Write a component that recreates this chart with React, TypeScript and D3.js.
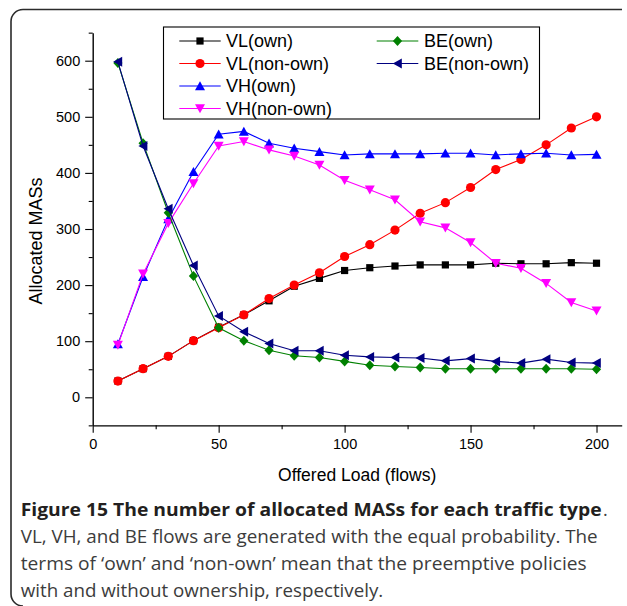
import React, { useEffect, useRef } from "react";
import * as d3 from "d3";

const loads = [10, 20, 30, 40, 50, 60, 70, 80, 90, 100, 110, 120, 130, 140, 150, 160, 170, 180, 190, 200];
const vlOwn = [29, 51, 73, 101, 125, 147, 172, 198, 212, 226, 231, 234, 236, 236, 236, 239, 238, 238, 240, 239];
const vlNonOwn = [29, 51, 73, 101, 124, 147, 176, 200, 222, 251, 272, 298, 328, 347, 374, 406, 424, 450, 480, 500];
const vhOwn = [95, 215, 318, 402, 469, 474, 453, 444, 438, 432, 434, 434, 434, 435, 435, 432, 434, 435, 432, 433];
const vhNonOwn = [93, 220, 310, 381, 448, 456, 441, 430, 414, 387, 370, 352, 313, 302, 276, 239, 230, 203, 169, 154];
const beOwn = [596, 453, 329, 216, 124, 101, 84, 74, 71, 64, 57, 55, 53, 51, 51, 51, 51, 51, 51, 50];
const beNonOwn = [598, 448, 336, 235, 145, 117, 96, 83, 83, 75, 72, 71, 70, 65, 69, 64, 61, 68, 62, 61];

const seriesNames = ["VL(own)", "VL(non-own)", "VH(own)", "VH(non-own)", "BE(own)", "BE(non-own)"];
const seriesColors = ["#000000", "#ff0000", "#0000ff", "#ff00ff", "#008000", "#000080"];
const seriesShapes = ["square", "circle", "up", "down", "diamond", "left"];
const seriesValues = [vlOwn, vlNonOwn, vhOwn, vhNonOwn, beOwn, beNonOwn];

const yMajorTicks = [0, 100, 200, 300, 400, 500, 600];
const yMinorTicks = [-50, 50, 150, 250, 350, 450, 550, 650];
const xMajorTicks = [0, 50, 100, 150, 200];
const xMinorTicks = [25, 75, 125, 175];

const captionBold = "Figure 15 The number of allocated MASs for each traffic type";
const captionLines = [
  "VL, VH, and BE flows are generated with the equal probability. The",
  "terms of \u2018own\u2019 and \u2018non-own\u2019 mean that the preemptive policies",
  "with and without ownership, respectively.",
];

const x = d3.scaleLinear().domain([0, 210]).range([92.7, 621.7]);
const y = d3.scaleLinear().domain([-50, 650]).range([425.35, 32.65]);

function markerPath(shape: string): string {
  switch (shape) {
    case "square":
      return "M-3.6,-3.6H3.6V3.6H-3.6Z";
    case "circle":
      return d3.symbol().type(d3.symbolCircle).size(Math.PI * 4.6 * 4.6)()!;
    case "up":
      return "M0,-4.7L5,4.3L-5,4.3Z";
    case "down":
      return "M0,4.7L5,-4.3L-5,-4.3Z";
    case "diamond":
      return "M0,-5L4.6,0L0,5L-4.6,0Z";
    case "left":
      return "M-4.7,0L4.3,-5L4.3,5Z";
  }
  return "";
}

const AXIS_FONT = "'Liberation Sans', Arial, sans-serif";

export default function App() {
  const yAxisRef = useRef<SVGGElement>(null);
  const xAxisRef = useRef<SVGGElement>(null);
  const yMinorRef = useRef<SVGGElement>(null);
  const xMinorRef = useRef<SVGGElement>(null);

  useEffect(() => {
    const ya = d3.select(yAxisRef.current!);
    ya.call(d3.axisLeft(y).tickValues(yMajorTicks).tickSize(7.5).tickSizeOuter(0).tickPadding(5).tickFormat(d3.format("d")));
    const yam = d3.select(yMinorRef.current!);
    yam.call(d3.axisLeft(y).tickValues(yMinorTicks).tickSize(4).tickSizeOuter(0).tickFormat(() => ""));
    yam.select(".domain").remove();
    const xa = d3.select(xAxisRef.current!);
    xa.call(d3.axisBottom(x).tickValues(xMajorTicks).tickSize(7.5).tickSizeOuter(0).tickPadding(6).tickFormat(d3.format("d")));
    const xam = d3.select(xMinorRef.current!);
    xam.call(d3.axisBottom(x).tickValues(xMinorTicks).tickSize(4).tickSizeOuter(0).tickFormat(() => ""));
    xam.select(".domain").remove();
    [ya, xa].forEach((g) => {
      g.attr("font-family", AXIS_FONT).attr("font-size", 14.5);
      g.select(".domain").attr("stroke", "#000").attr("stroke-width", 1.4);
      g.selectAll("text").attr("fill", "#000");
    });
    [ya, yam, xa, xam].forEach((g) => g.selectAll(".tick line").attr("stroke", "#000").attr("stroke-width", 1.1));
  }, []);

  const line = d3
    .line<number>()
    .x((_, i) => x(loads[i]))
    .y((v) => y(v));

  const legendRows = [41, 63.5, 86, 108.5];
  const legendCols = [
    { lx0: 179.3, lx1: 220.7, mx: 200, tx: 226 },
    { lx0: 376.7, lx1: 418.3, mx: 397.5, tx: 424 },
  ];
  const legendPos = [
    [0, 0],
    [0, 1],
    [0, 2],
    [0, 3],
    [1, 0],
    [1, 1],
  ];

  return (
    <svg width={627} height={606} style={{ position: "absolute", left: 0, top: 0 }} xmlns="http://www.w3.org/2000/svg">
      <rect x={0} y={0} width={627} height={606} fill="#fff" />
      <path d="M622,9.5H23A12,12 0 0 0 11,21.5V594A12,12 0 0 0 23,606" fill="none" stroke="#2b2b2b" strokeWidth={1.6} />

      <g ref={yMinorRef} transform={`translate(${x(0)},0)`} />
      <g ref={yAxisRef} transform={`translate(${x(0)},0)`} />
      <g ref={xMinorRef} transform={`translate(0,${y(-50)})`} />
      <g ref={xAxisRef} transform={`translate(0,${y(-50)})`} />

      {seriesValues.map((vals, si) => (
        <g key={seriesNames[si]}>
          <path d={line(vals)!} fill="none" stroke={seriesColors[si]} strokeWidth={1.1} />
          {vals.map((v, i) => (
            <path
              key={i}
              d={markerPath(seriesShapes[si])}
              transform={`translate(${x(loads[i])},${y(v)})`}
              fill={seriesColors[si]}
            />
          ))}
        </g>
      ))}

      <rect x={163.5} y={27} width={376} height={92} fill="#fff" stroke="#000" strokeWidth={1.1} />
      {seriesNames.map((name, si) => {
        const [c, r] = legendPos[si];
        const col = legendCols[c];
        const ry = legendRows[r];
        return (
          <g key={name}>
            <line x1={col.lx0} x2={col.lx1} y1={ry} y2={ry} stroke={seriesColors[si]} strokeWidth={1.1} />
            <path d={markerPath(seriesShapes[si])} transform={`translate(${col.mx},${ry})`} fill={seriesColors[si]} />
            <text x={col.tx} y={ry + 6.4} fontFamily={AXIS_FONT} fontSize={18} fill="#000">
              {name}
            </text>
          </g>
        );
      })}

      <text
        transform={`translate(41.5,${(y(-50) + y(650)) / 2 + 12}) rotate(-90)`}
        textAnchor="middle"
        fontFamily={AXIS_FONT}
        fontSize={18}
        fill="#000"
      >
        Allocated MASs
      </text>
      <text x={(x(0) + x(210)) / 2} y={480.5} textAnchor="middle" fontFamily={AXIS_FONT} fontSize={17.5} fill="#000">
        Offered Load (flows)
      </text>

      <text x={20.7} y={516} fontFamily="'Open Sans', 'Noto Sans', sans-serif" fontSize={18} fontWeight="bold" fill="#231f20" textLength={581} lengthAdjust="spacingAndGlyphs">
        {captionBold}
      </text>
      <text x={603} y={516} fontFamily="'Open Sans', 'Noto Sans', sans-serif" fontSize={18} fill="#3c3c3c">
        .
      </text>
      {captionLines.map((t, i) => {
        const widths = [577, 566, 362.6];
        return (
          <text
            key={i}
            x={20.7}
            y={543 + i * 27}
            fontFamily="'Open Sans', 'Noto Sans', sans-serif"
            fontSize={17.5}
            fill="#3c3c3c"
            textLength={widths[i]}
            lengthAdjust="spacingAndGlyphs"
          >
            {t}
          </text>
        );
      })}
    </svg>
  );
}
